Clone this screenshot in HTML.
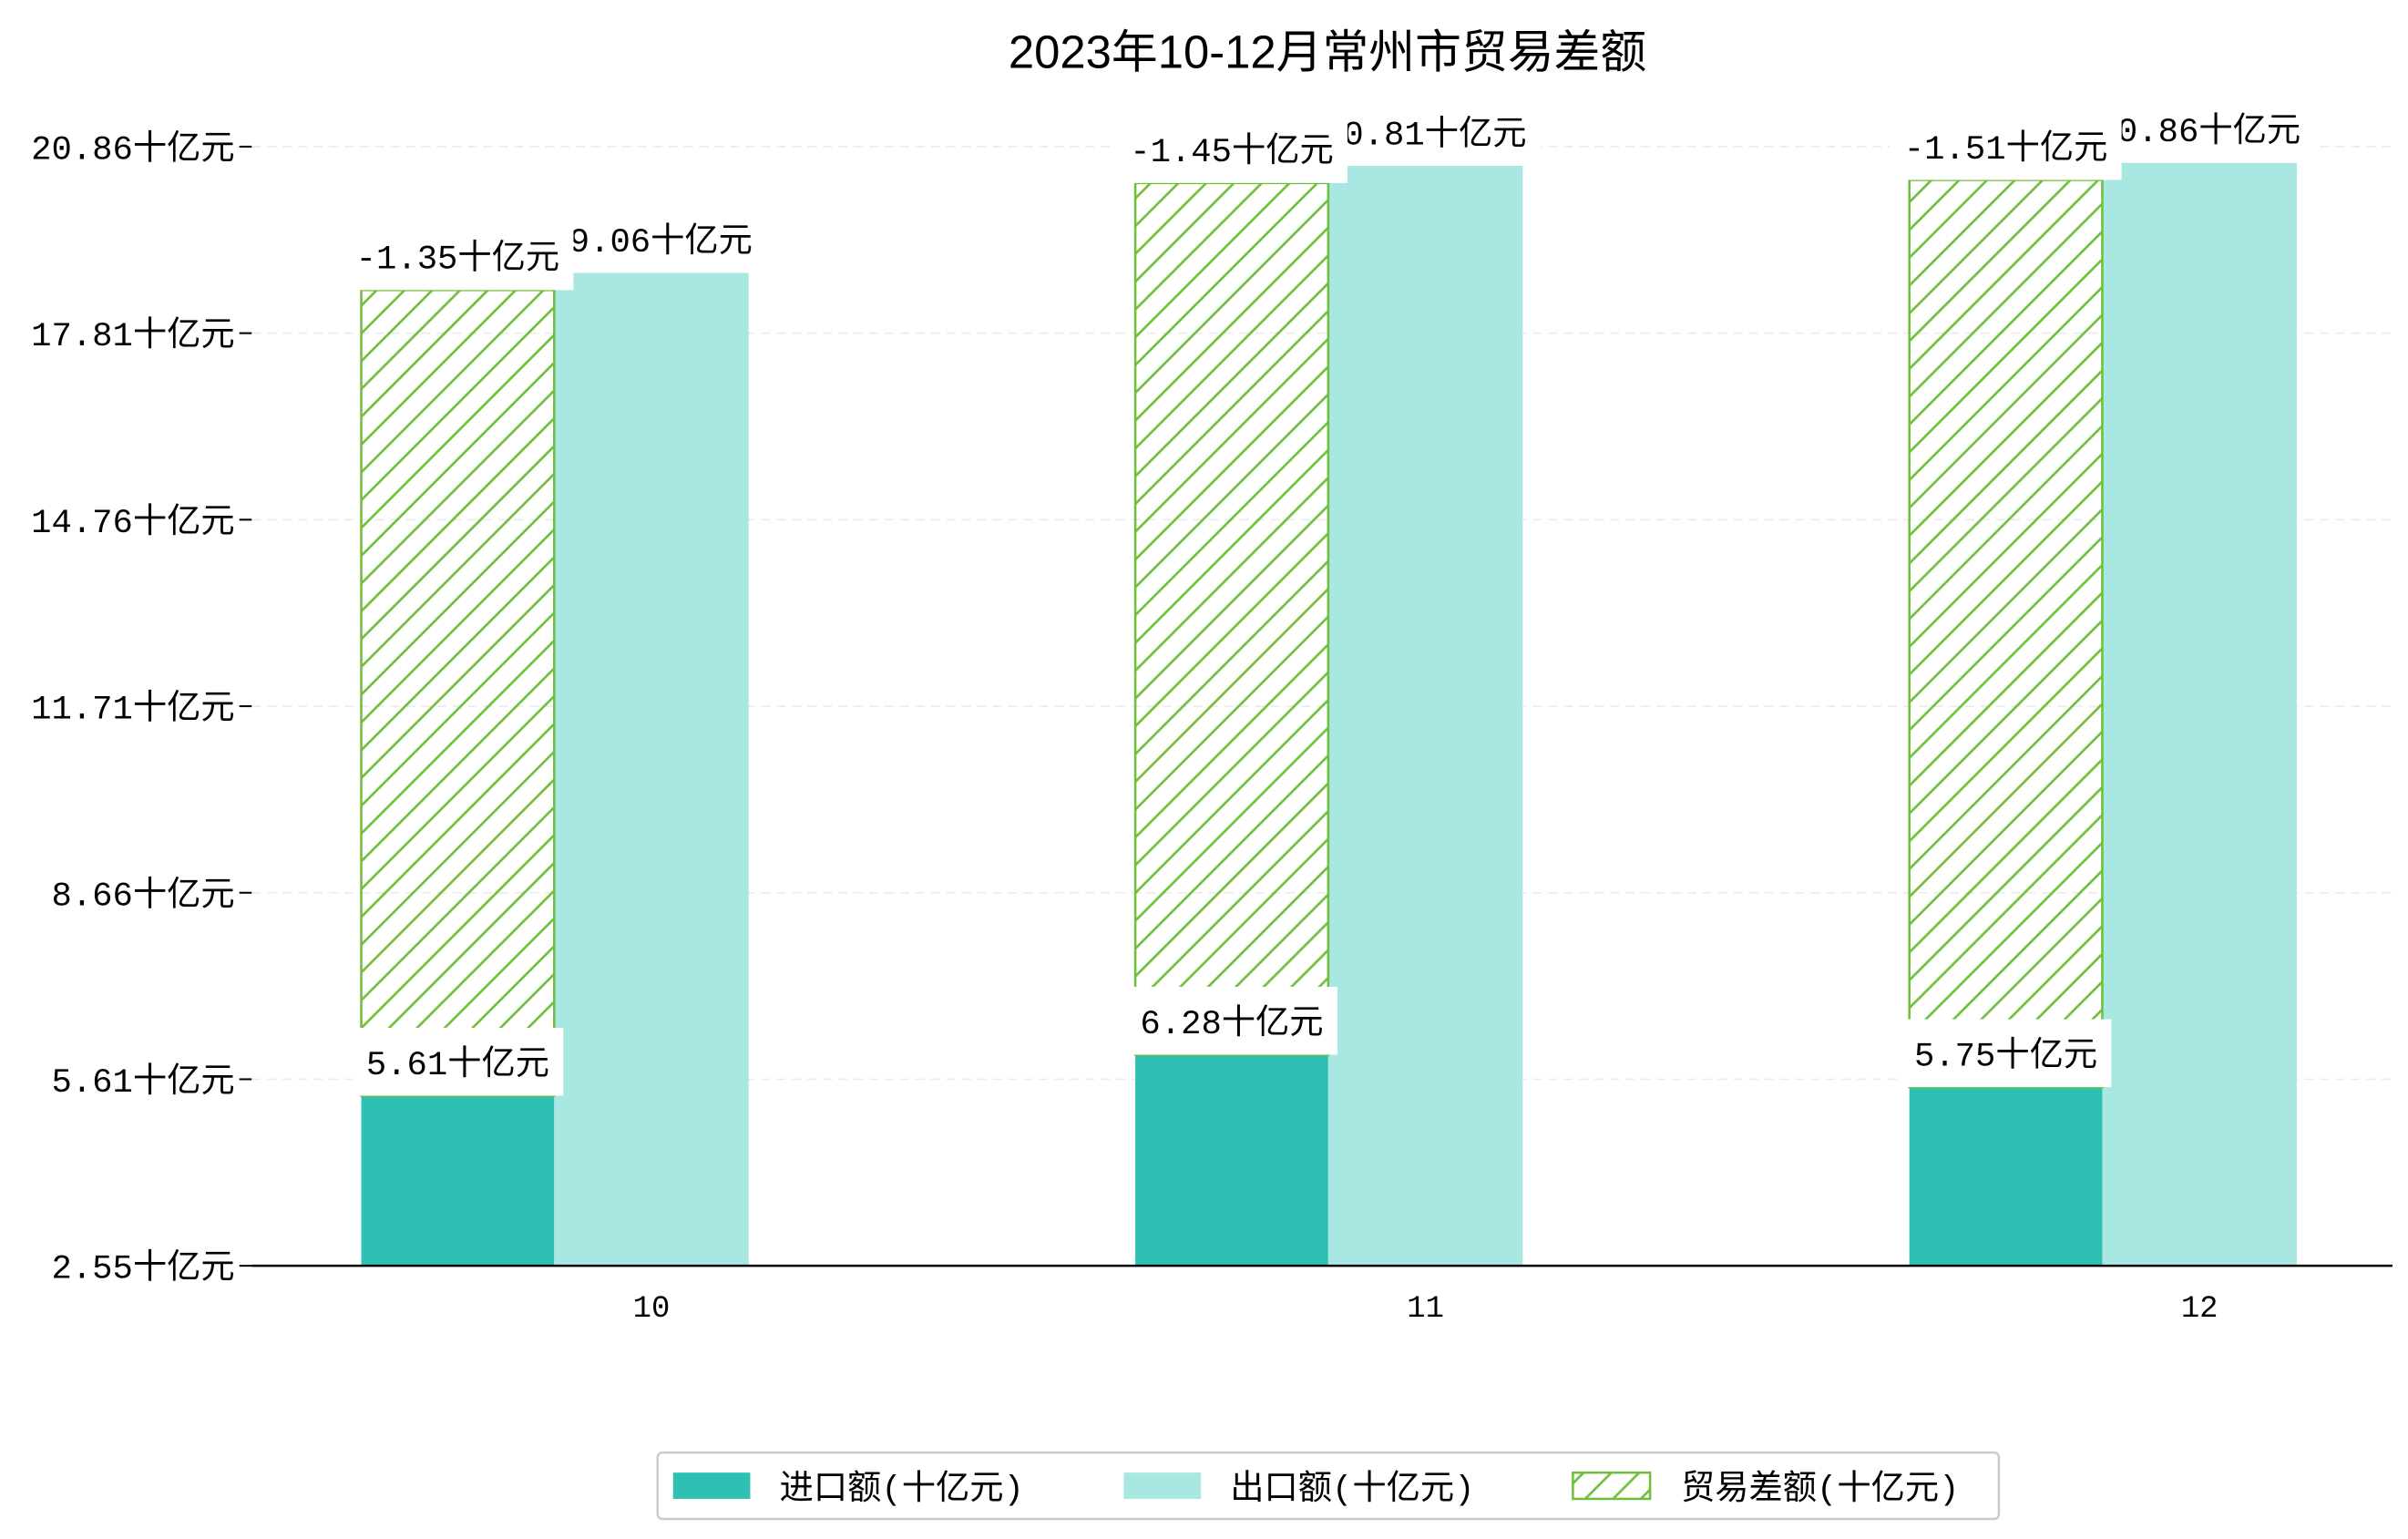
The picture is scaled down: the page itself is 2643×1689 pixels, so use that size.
<!DOCTYPE html>
<html><head><meta charset="utf-8"><style>
html,body{margin:0;padding:0;background:#fff;}
svg{display:block;font-family:"Liberation Mono","Noto Sans CJK SC",monospace;}
</style></head><body>
<svg id="chart" width="2643" height="1689" viewBox="0 0 1560 997" xmlns="http://www.w3.org/2000/svg">
<defs>
<pattern id="hatch" patternUnits="userSpaceOnUse" width="18" height="18">
<path d="M-2,20 L20,-2 M-2,2 L2,-2 M16,20 L20,16" stroke="#6fbf3c" stroke-width="1.6"/>
</pattern>
</defs>
<text x="860" y="44" font-size="30" text-anchor="middle" fill="#000" font-family="Liberation Sans, Noto Sans CJK SC, sans-serif">2023年10-12月常州市贸易差额</text>
<g id="grid"></g><g id="bars"></g><g id="axes"></g><g id="labels"></g>
<g>
<rect x="426" y="941" width="869" height="43" fill="#fff" stroke="#ccc" stroke-width="1.5" rx="3"/>
<rect x="436" y="954" width="50" height="17" fill="#2ec0b3"/>
<text x="505" y="971" font-size="22">进口额(十亿元)</text>
<rect x="728" y="954" width="50" height="17" fill="#a8e7e2"/>
<text x="797" y="971" font-size="22">出口额(十亿元)</text>
<rect x="1019" y="954" width="50" height="17" fill="url(#hatch)" stroke="#6fbf3c" stroke-width="1.5"/>
<text x="1089" y="971" font-size="22">贸易差额(十亿元)</text>
</g>
</svg>
<script>
const categories = ["10","11","12"];
const importVals = [5.61, 6.28, 5.75];
const exportVals = [19.06, 20.81, 20.86];
const balanceVals = [-1.35, -1.45, -1.51];
const tickLabels = ["2.55","5.61","8.66","11.71","14.76","17.81","20.86"];

const NS="http://www.w3.org/2000/svg";
const plotL=163, plotR=1550, plotB=820, plotT=95;
const yMin=2.83, pxPerUnit=39.63, hatchTrim=0.28;
const y=v=>plotB-(v-yMin)*pxPerUnit;
const catX=i=>422+i*501.5;
const barW=125;
function mk(tag,attrs,parent){const e=document.createElementNS(NS,tag);for(const k in attrs)e.setAttribute(k,attrs[k]);parent.appendChild(e);return e;}
const grid=document.getElementById('grid'),bars=document.getElementById('bars'),axes=document.getElementById('axes'),labels=document.getElementById('labels');

tickLabels.forEach((t,i)=>{
  const ty=plotB-(plotB-plotT)*i/(tickLabels.length-1);
  if(i>0){const g=mk('line',{x1:plotL,x2:plotR,y1:ty,y2:ty,stroke:'#ececec','stroke-dasharray':'6,4','stroke-width':1},grid);
  
  }
  const tk=mk('line',{x1:plotL-8,x2:plotL,y1:ty,y2:ty,stroke:'#000','stroke-width':1.2},axes);
  
  
  const tx=mk('text',{x:plotL-11,y:ty+8,'font-size':22,'text-anchor':'end'},axes);
  tx.textContent=t+'十亿元';
  
  
});
const xa=mk('line',{x1:plotL,x2:plotR,y1:plotB,y2:plotB,stroke:'#000','stroke-width':1.5},axes);



function label(text,cx,ty,name){
  const half=text.replace(/[十亿元]/g,'').length;
  const w=half*13.2+66+18;
  const r=mk('rect',{x:cx-w/2,y:ty-44,width:w,height:44,fill:'#fff'},labels);
  
  
  const t=mk('text',{x:cx,y:ty-14,'font-size':22,'text-anchor':'middle'},labels);
  t.textContent=text;
  
  
}

categories.forEach((c,i)=>{
  const cx=catX(i);
  const ix=cx-188, ex=cx-63;
  const ri=mk('rect',{x:ix,y:y(importVals[i]),width:barW,height:plotB-y(importVals[i]),fill:'#2ec0b3'},bars);
  
  
  const re=mk('rect',{x:ex,y:y(exportVals[i]),width:barW+1,height:plotB-y(exportVals[i]),fill:'#a8e7e2'},bars);
  
  
  const top=y(exportVals[i]-hatchTrim), bot=y(importVals[i]);
  const rh=mk('rect',{x:ix,y:top,width:barW,height:bot-top,fill:'url(#hatch)',stroke:'#6fbf3c','stroke-width':1.5},bars);
  
  
  const xt=mk('text',{x:cx,y:plotB+33,'font-size':20,'text-anchor':'middle'},axes);
  xt.textContent=c;
  
  
  label(exportVals[i].toFixed(2)+'十亿元',ex+barW/2,y(exportVals[i]),'export-value-label');
  label(balanceVals[i].toFixed(2)+'十亿元',ix+barW/2,top,'balance-value-label');
  label(importVals[i].toFixed(2)+'十亿元',ix+barW/2,bot,'import-value-label');
});
</script>
</body></html>
